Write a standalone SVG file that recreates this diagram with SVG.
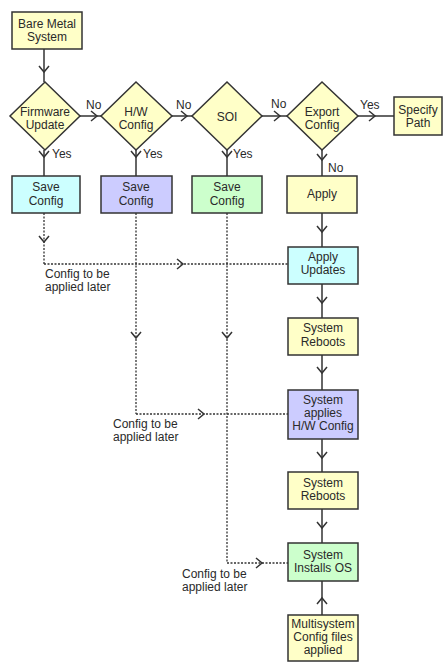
<svg xmlns="http://www.w3.org/2000/svg" width="444" height="663" viewBox="0 0 444 663">
<defs>
<marker id="chev" markerUnits="userSpaceOnUse" viewBox="-7 -6 8 12" refX="0" refY="0" markerWidth="8" markerHeight="12" orient="auto" overflow="visible">
<path d="M-6,-5 L0,0 L-6,5" fill="none" stroke="#333" stroke-width="1.5"/>
</marker>
</defs>
<style>
.box{stroke:#333;stroke-width:1.5}
.y{fill:#FFFFC8}.c{fill:#CCFFFF}.p{fill:#CCCCFF}.g{fill:#CCFFCC}
text{font-family:"Liberation Sans",Arial,sans-serif;font-size:12px;fill:#2a2a2a}
.t{text-anchor:middle}
.ln{fill:none;stroke:#333;stroke-width:1.5;marker-mid:url(#chev)}
.dl{fill:none;stroke:#333;stroke-width:1.3;stroke-dasharray:2 1.5}
.dm{marker-mid:url(#chev)}
</style>
<rect width="444" height="663" fill="#fff"/>
<g id="connectors">
<path class="ln" d="M44,49 L44,72 L44,82"/>
<path class="ln" d="M80,116 L97,116 L101,116"/>
<path class="ln" d="M172,116 L187,116 L192,116"/>
<path class="ln" d="M262,116 L280,116 L287,116"/>
<path class="ln" d="M358,116 L375,116 L394,116"/>
<path class="ln" d="M44,150 L44,157 L44,176"/>
<path class="ln" d="M136,150 L136,157 L136,176"/>
<path class="ln" d="M227,150 L227,157 L227,176"/>
<path class="ln" d="M322,150 L322,160 L322,176"/>
<path class="ln" d="M322,213 L322,232 L322,247"/>
<path class="ln" d="M322,284 L322,303 L322,318"/>
<path class="ln" d="M322,355 L322,373 L322,390"/>
<path class="ln" d="M322,439 L322,458 L322,472"/>
<path class="ln" d="M322,509 L322,528 L322,543"/>
<path class="ln" d="M322,615 L322,598 L322,581"/>
<path class="dl dm" d="M44,213 L44,242 L44,264"/>
<path class="dl dm" d="M44,264 L183,264 L288,264"/>
<path class="dl dm" d="M136,213 L136,338 L136,414"/>
<path class="dl dm" d="M136,414 L204,414 L288,414"/>
<path class="dl dm" d="M227,213 L227,338 L227,563"/>
<path class="dl dm" d="M227,563 L262,563 L288,563"/>
</g>
<g id="bare-metal"><rect class="box y" x="12" y="12" width="70" height="37"/><text class="t" x="47" y="28">Bare Metal</text><text class="t" x="47" y="41">System</text></g>
<g id="firmware-update"><polygon class="box y" points="45,82 80,116 45,150 10,116"/><text class="t" x="45" y="116">Firmware</text><text class="t" x="45" y="129">Update</text></g>
<g id="hw-config"><polygon class="box y" points="136,82 172,116 136,150 101,116"/><text class="t" x="136" y="116">H/W</text><text class="t" x="136" y="129">Config</text></g>
<g id="soi"><polygon class="box y" points="227,82 262,116 227,150 192,116"/><text class="t" x="227" y="121">SOI</text></g>
<g id="export-config"><polygon class="box y" points="322,82 358,116 322,150 287,116"/><text class="t" x="322" y="116">Export</text><text class="t" x="322" y="129">Config</text></g>
<g id="specify-path"><rect class="box y" x="394" y="97" width="48" height="38"/><text class="t" x="418" y="114">Specify</text><text class="t" x="418" y="127">Path</text></g>
<g id="save-config-1"><rect class="box c" x="12" y="176" width="68" height="37"/><text class="t" x="46" y="191">Save</text><text class="t" x="46" y="205">Config</text></g>
<g id="save-config-2"><rect class="box p" x="101" y="176" width="71" height="37"/><text class="t" x="136" y="191">Save</text><text class="t" x="136" y="205">Config</text></g>
<g id="save-config-3"><rect class="box g" x="192" y="176" width="70" height="37"/><text class="t" x="227" y="191">Save</text><text class="t" x="227" y="205">Config</text></g>
<g id="apply"><rect class="box y" x="287" y="176" width="70" height="37"/><text class="t" x="322" y="198">Apply</text></g>
<g id="apply-updates"><rect class="box c" x="288" y="247" width="70" height="37"/><text class="t" x="323" y="261">Apply</text><text class="t" x="323" y="274">Updates</text></g>
<g id="reboots-1"><rect class="box y" x="288" y="318" width="70" height="37"/><text class="t" x="323" y="332">System</text><text class="t" x="323" y="346">Reboots</text></g>
<g id="applies-hw"><rect class="box p" x="288" y="390" width="70" height="49"/><text class="t" x="323" y="404">System</text><text class="t" x="323" y="417">applies</text><text class="t" x="323" y="430">H/W Config</text></g>
<g id="reboots-2"><rect class="box y" x="288" y="472" width="70" height="37"/><text class="t" x="323" y="487">System</text><text class="t" x="323" y="500">Reboots</text></g>
<g id="installs-os"><rect class="box g" x="288" y="543" width="70" height="38"/><text class="t" x="323" y="559">System</text><text class="t" x="323" y="572">Installs OS</text></g>
<g id="multisystem"><rect class="box y" x="288" y="615" width="70" height="46"/><text class="t" x="323" y="628">Multisystem</text><text class="t" x="323" y="641">Config files</text><text class="t" x="323" y="654">applied</text></g>
<g id="labels">
<text x="86" y="109">No</text>
<text x="176" y="109">No</text>
<text x="271" y="108">No</text>
<text x="360" y="109">Yes</text>
<text x="328" y="172">No</text>
<text x="52" y="158">Yes</text>
<text x="143" y="158">Yes</text>
<text x="233" y="158">Yes</text>
<text x="45" y="278">Config to be</text>
<text x="45" y="291">applied later</text>
<text x="113" y="428">Config to be</text>
<text x="113" y="441">applied later</text>
<text x="182" y="578">Config to be</text>
<text x="182" y="591">applied later</text>
</g>
</svg>
